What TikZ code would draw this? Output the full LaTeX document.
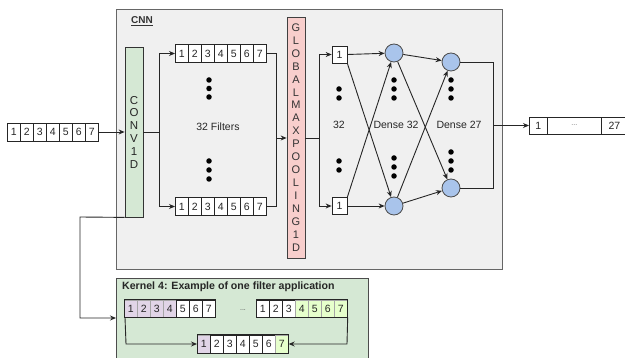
\documentclass[tikz,border=0pt]{standalone}
\usepackage{fontspec}
\setmainfont{Liberation Sans}
\usetikzlibrary{arrows.meta}
\definecolor{cnnfill}{HTML}{F0F0F0}
\definecolor{greenfill}{HTML}{D5E8D4}
\definecolor{redfill}{HTML}{F8CECC}
\definecolor{bluefill}{HTML}{A9C4EB}
\definecolor{purfill}{HTML}{E1D5E7}
\definecolor{limefill}{HTML}{E6FFCC}
\begin{document}
\begin{tikzpicture}[x=1pt,y=-1pt,
  frame/.style={draw=black!60, line width=1.1pt},
  cell/.style={draw=black!85, fill=white, line width=0.7pt, minimum width=13pt, minimum height=18pt, inner sep=0pt, font=\fontsize{10.5}{12}\selectfont, text=black!85, anchor=west},
  ccell/.style={cell, draw=black!35},
  arr/.style={-{Stealth[length=6pt,width=5pt]}, line width=0.9pt, draw=black!85},
  ln/.style={line width=0.9pt, draw=black!85},
  dot/.style={circle, fill=black, inner sep=0pt, minimum size=5.5pt},
  neuron/.style={circle, draw=black!70, fill=bluefill, minimum size=18pt, inner sep=0pt, line width=0.8pt},
  lbl/.style={font=\fontsize{10.5}{12}\selectfont, text=black!85},
  vtext/.style={align=center, inner sep=0pt, line width=0.8pt, minimum width=18pt}
]
\useasboundingbox (0,0) rectangle (625,358);
\fill[white] (0,0) rectangle (625,358);

% CNN frame
\node[frame, fill=cnnfill, minimum width=386pt, minimum height=260pt, anchor=north west, inner sep=0pt] (cnn) at (116,9) {};
\node[font=\bfseries\fontsize{10}{11}\selectfont, text=black!80, anchor=west, inner sep=0pt] (cnnlbl) at (131,21) {\underline{CNN}};

% Input array
\foreach \i in {1,...,7} \node[cell] (in\i) at ({7+13*(\i-1)},132) {\i};

% Conv1D
\node[vtext, draw=black!80, fill=greenfill, minimum height=170pt, font=\fontsize{11.5}{12.8}\selectfont, text=black!85] (conv) at (134,132) {C\\O\\N\\V\\1\\D};

% Filter arrays
\foreach \i in {1,...,7} \node[cell] (fa\i) at ({175+13*(\i-1)},53.5) {\i};
\foreach \i in {1,...,7} \node[cell] (fb\i) at ({175+13*(\i-1)},206.5) {\i};
\foreach \y [count=\k] in {80,88.5,97} \node[dot] (fdt\k) at (209,\y) {};
\foreach \y [count=\k] in {161,170,179} \node[dot] (fdb\k) at (209,\y) {};
\node[lbl] (filt) at (218,127) {32 Filters};

% Global max pooling
\node[vtext, draw=black!75, fill=redfill, minimum height=241pt, font=\fontsize{11}{12.95}\selectfont, text=black!80] (pool) at (296,137.5) {G\\L\\O\\B\\A\\L\\M\\A\\X\\P\\O\\O\\L\\I\\N\\G\\1\\D};

% 32 units
\node[cell, anchor=center, minimum width=15pt, minimum height=17pt] (na) at (339.5,54.5) {1};
\node[cell, anchor=center, minimum width=15pt, minimum height=17pt] (nb) at (339.5,206) {1};
\foreach \y [count=\k] in {89,98} \node[dot] (udt\k) at (339,\y) {};
\foreach \y [count=\k] in {161,170} \node[dot] (udb\k) at (339,\y) {};
\node[lbl] (l32) at (339,125) {32};

% Dense 32
\node[neuron] (d1a) at (394,53) {};
\node[neuron] (d1b) at (394,206) {};
\foreach \y [count=\k] in {80,89,98} \node[dot] (d1t\k) at (394,\y) {};
\foreach \y [count=\k] in {158,167,176} \node[dot] (d1d\k) at (394,\y) {};
\node[lbl] (ld32) at (396,125) {Dense 32};

% Dense 27
\node[neuron] (d2a) at (451,62) {};
\node[neuron] (d2b) at (451,188) {};
\foreach \y [count=\k] in {80,89,98} \node[dot] (d2t\k) at (451,\y) {};
\foreach \y [count=\k] in {152,161,170} \node[dot] (d2d\k) at (451,\y) {};
\node[lbl] (ld27) at (459,125) {Dense 27};

% Output array
\node[cell, minimum width=18pt, minimum height=17pt] (out1) at (529,125.5) {1};
\node[cell, minimum width=54pt, minimum height=17pt, text=black!60, font=\fontsize{7}{8}\selectfont] (outd) at (547,125.5) {...};
\node[cell, minimum width=26pt, minimum height=17pt] (out27) at (601,125.5) {27};

% Connectors in CNN
\draw[arr] (in7.east) -- (conv.west |- in7.east);
\coordinate (s1) at (159,132);
\draw[ln] (conv.east |- s1) -- (s1);
\draw[arr] (s1) |- (fa1.west);
\draw[arr] (s1) |- (fb1.west);
\coordinate (s2) at (276,138);
\draw[ln] (fa7.east) -| (s2);
\draw[ln] (fb7.east) -| (s2);
\draw[arr] (s2) -- (pool.west |- s2);
\coordinate (s3) at (319,138);
\draw[ln] (pool.east |- s3) -- (s3);
\draw[arr] (s3) |- (na.west);
\draw[arr] (s3) |- (nb.west);

\draw[arr] (na.east) -- (d1a);
\draw[arr] (na.south east) -- (d1b);
\draw[arr] (nb.north east) -- (d1a);
\draw[arr] (nb.east) -- (d1b);
\draw[arr] (d1a) -- (d2a);
\draw[arr] (d1a) -- (d2b);
\draw[arr] (d1b) -- (d2a);
\draw[arr] (d1b) -- (d2b);

\coordinate (s4) at (493,125.5);
\draw[ln] (d2a.east) -| (s4);
\draw[ln] (d2b.east) -| (s4);
\draw[arr] (s4) -- (out1.west);

% Kernel box
\node[draw=black!70, line width=1.1pt, fill=greenfill, minimum width=252pt, minimum height=90pt, anchor=north west, inner sep=0pt] (kern) at (116,278) {};
\node[font=\bfseries\fontsize{10.6}{12}\selectfont, text=black!85, anchor=west, inner sep=0pt] (ktitle) at (122,287) {Kernel 4: Example of one filter application};

\foreach \i/\c in {1/purfill,2/purfill,3/purfill,4/purfill} \node[ccell, fill=\c, minimum height=17pt] (ka\i) at ({124+13*(\i-1)},308.5) {\i};
\foreach \i in {5,6,7} \node[cell, minimum height=17pt] (ka\i) at ({124+13*(\i-1)},308.5) {\i};
\draw[line width=0.8pt, draw=black!85] (ka1.north west) rectangle (ka7.south east);

\node[text=black!70, font=\fontsize{7}{8}\selectfont] (kdots) at (243,310) {...};

\foreach \i in {1,2,3} \node[cell, minimum height=17pt] (kb\i) at ({256+13*(\i-1)},308.5) {\i};
\foreach \i in {4,5,6,7} \node[ccell, fill=limefill, minimum height=17pt] (kb\i) at ({256+13*(\i-1)},308.5) {\i};
\draw[line width=0.8pt, draw=black!85] (kb1.north west) rectangle (kb7.south east);

\node[ccell, fill=purfill, minimum height=18pt] (ko1) at (197,344) {1};
\foreach \i in {2,...,6} \node[cell] (ko\i) at ({197+13*(\i-1)},344) {\i};
\node[ccell, fill=limefill, minimum height=18pt] (ko7) at (275,344) {7};
\draw[line width=0.8pt, draw=black!85] (ko1.north west) rectangle (ko7.south east);

\coordinate (k1) at (125,344);
\draw[arr] ([xshift=1pt]ka1.south west) -- ([xshift=1pt]k1) -- (ko1.west);
\coordinate (k2) at (347,344);
\draw[arr] (kb7.south east) -- (k2) -- (ko7.east);

% Conv to kernel example
\coordinate (c1) at (80,217);
\coordinate (c2) at (80,318);
\draw[arr] (conv.south west) -- (c1) -- (c2) -- (kern.west |- c2);
\end{tikzpicture}
\end{document}
